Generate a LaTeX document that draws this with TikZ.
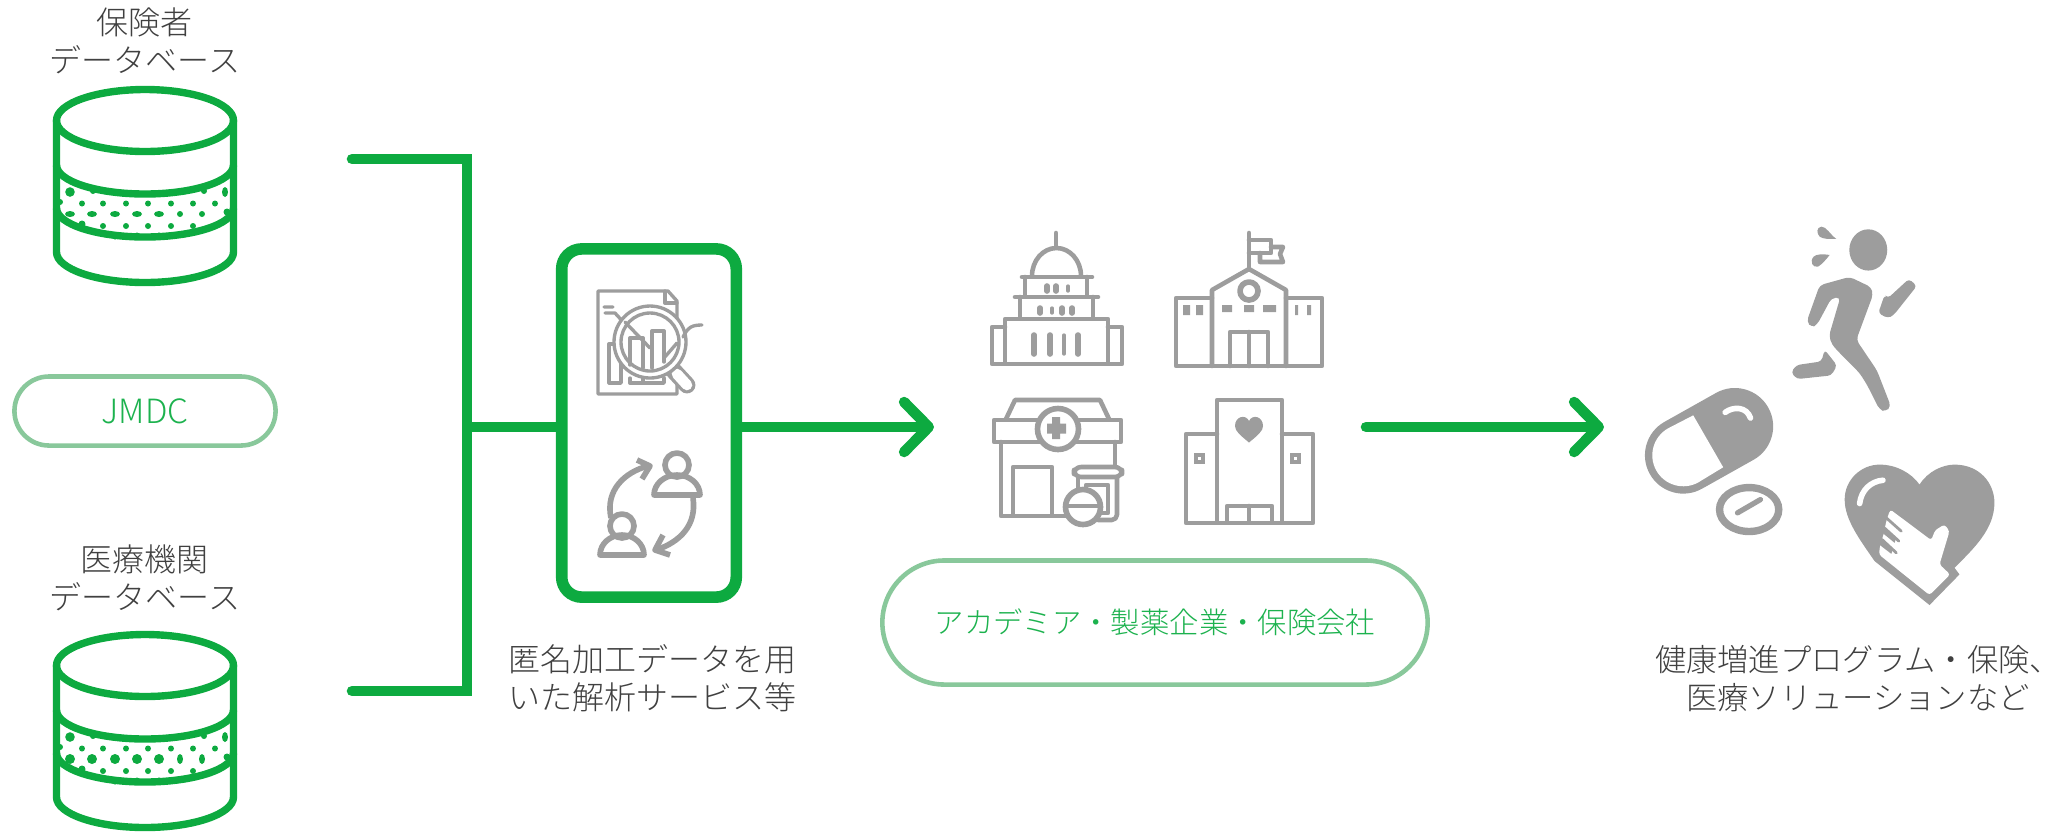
\documentclass[tikz,border=0pt]{standalone}
\usepackage{fontspec}
\usepackage{xcolor}
\usetikzlibrary{arrows.meta,positioning}
\setmainfont{Noto Sans CJK JP}[UprightFont=* Light]
\definecolor{flowgreen}{RGB}{13, 170, 64}
\definecolor{palegreen}{RGB}{137, 200, 155}
\definecolor{labelgreen}{RGB}{28, 178, 78}
\definecolor{icongray}{RGB}{157, 157, 157}
\definecolor{inkgray}{RGB}{64, 64, 64}
\tikzset{
    caption/.style={text=inkgray, align=center, inner sep=0pt, font=\fontsize{9.1}{10.8}\selectfont},
    pilllabel/.style={draw=palegreen, line width=1.3pt, fill=white, text=labelgreen, inner sep=0pt, outer sep=0pt},
    servicebox/.style={draw=flowgreen, line width=3.3pt, fill=white, rounded corners=.2cm, inner sep=0pt, outer sep=0pt, minimum width=1.745cm, minimum height=3.48cm},
    flowline/.style={draw=flowgreen, line width=3pt, line cap=round},
    flowarrow/.style={flowline, -{Straight Barb[round, length=7pt, width=14.2pt]}},
    dbline/.style={draw=flowgreen, line width=2.1pt},
    iconline/.style={draw=icongray, line width=1.3pt, line join=round, line cap=round},
    thinline/.style={draw=icongray, line width=.95pt, line join=round, line cap=round},
    boldline/.style={iconline, line width=1.6pt}
}
% database cylinder, #1 = shift, #2 #3 and #4 #5 = radii of the big and small dots of the middle row
\newcommand{\dbicon}[5]{
    \begin{scope}[shift={(0,#1)}]
        \foreach \dotx in {82,103,126,148,171,193,215}
            \fill[flowgreen] (\dotx,203.5) circle (3);
        \foreach \dotx in {103,126,148,171,193}
            \fill[flowgreen] (\dotx,226) circle (3);
        \foreach \dotx in {70,92,115,137,159}
            \fill[flowgreen] (\dotx,214) ellipse [x radius=#2, y radius=#3];
        \foreach \dotx in {180,202}
            \fill[flowgreen] (\dotx,214) ellipse [x radius=#4, y radius=#5];
        \foreach \dotx in {115,137,159}
            \fill[flowgreen] (\dotx,236) circle (3.5);
        \fill[flowgreen] (70,192) circle (4.8) (93,191) circle (3) (204,191) circle (3) (225,192) ellipse [x radius=3, y radius=5];
        \fill[flowgreen] (82,224) circle (3.5) (227,212) circle (3.5) (60,202) circle (3);
        \draw[dbline] (145,120.5) ellipse [x radius=88.5, y radius=31];
        \draw[dbline] (56.5,120) -- (56.5,252) arc[start angle=180, end angle=0, x radius=88.5, y radius=30.5] -- (233.5,120);
        \draw[dbline] (56.5,165) arc[start angle=180, end angle=0, x radius=88.5, y radius=29];
        \draw[dbline] (56.5,208) arc[start angle=180, end angle=0, x radius=88.5, y radius=29];
    \end{scope}
}
\begin{document}
\begin{tikzpicture}[x=.01cm, y=-.01cm]
    \useasboundingbox (0,0) rectangle (2063,832);

    \node[caption] (insurerlabel) at (145,41) {保険者\\データベース};
    \dbicon{0}{5}{3}{3}{3}
    \node[pilllabel, font=\fontsize{9.5}{11}\selectfont, rounded corners=.345cm, minimum width=2.61cm, minimum height=.69cm] (jmdc) at (145,411) {JMDC};
    \node[caption] (hospitallabel) at (145,578) {医療機関\\データベース};
    \dbicon{545}{5}{5}{3}{5}

    % bracket and arrows
    \coordinate (insurerend) at (352,159);
    \coordinate (hospitalend) at (352,691);
    \coordinate (merge) at (467,427);
    \coordinate (academiatip) at (934,427);
    \coordinate (programstart) at (1366,427);
    \coordinate (programtip) at (1604,427);
    \node[servicebox] (service) at (649,423) {};
    \draw[flowline, line join=miter] (insurerend) -- (insurerend -| merge) -- (hospitalend -| merge) -- (hospitalend);
    \draw[flowline, line cap=butt] (merge) -- (merge -| service.west);
    \draw[flowarrow, line cap=butt] (merge -| service.east) -- (academiatip);
    \draw[flowarrow] (programstart) -- (programtip);

    \node[caption] (servicelabel) at (652,678) {匿名加工データを用\\いた解析サービス等};
    \node[pilllabel, font=\fontsize{8.35}{10}\selectfont, rounded corners=.62cm, minimum width=5.45cm, minimum height=1.24cm] (academia) at (1155,622.5) {アカデミア・製薬企業・保険会社};
    \node[caption, font=\fontsize{8.9}{10.8}\selectfont] (programlabel) at (1858,679) {健康増進プログラム・保険、\\医療ソリューションなど};

    % report with magnifier
    \draw[thinline] (677,360) -- (677,394) -- (598,394) -- (598,291) -- (668,291) -- (677,301) -- (677,320);
    \draw[thinline] (665,291) -- (665,303) -- (677,303);
    \draw[thinline] (604,307) -- (613,307) (605,313) -- (615,313) -- (626,325);
    \draw[thinline] (609,383) -- (609,344) -- (614,344) (621,350) -- (621,383) -- (609,383);
    \draw[draw=icongray, line width=4.8pt, line cap=round] (674,371) -- (687,385);
    \draw[draw=white, line width=3pt, line cap=round] (677,374) -- (687,385);
    \draw[thinline, fill=white] (650,342) circle (36);
    \draw[thinline] (650,342) circle (29);
    \draw[thinline] (625,322) -- (650,348) (664,358) -- (677,343);
    \draw[thinline] (630,365) -- (630,338) -- (643,338) -- (643,368);
    \draw[thinline] (652,368) -- (652,331) -- (664,331) -- (664,362);
    \draw[thinline] (630,378) -- (630,383) -- (664,383) -- (664,378) (643,378) -- (643,383);
    \draw[thinline] (683,337) .. controls (688,327) and (692,325) .. (702,325);

    % exchange between two people
    \draw[boldline] (677,465) circle (12);
    \draw[boldline, line cap=butt] (654,495) arc[start angle=180, end angle=360, x radius=23, y radius=20] -- cycle;
    \draw[boldline] (622,526) circle (12);
    \draw[boldline, line cap=butt] (600,555) arc[start angle=180, end angle=360, x radius=22, y radius=20] -- cycle;
    \draw[boldline, line cap=butt] (611,518) .. controls (605,490) and (625,472) .. (648,466);
    \draw[boldline, line cap=butt] (637,460) -- (650,466) -- (642,479);
    \draw[boldline, line cap=butt] (693,498) .. controls (697,525) and (680,542) .. (656,550);
    \draw[boldline, line cap=butt] (663,535) -- (655,550) -- (670,555);

    % capitol
    \draw[iconline] (1056,233) -- (1056,247);
    \draw[iconline] (1032,276) arc[start angle=180, end angle=360, x radius=24.5, y radius=28];
    \draw[iconline] (1022,277) -- (1092,277) (1015,297) -- (1098,297);
    \draw[iconline] (1025,277) -- (1025,296) (1087,277) -- (1087,296) (1020,297) -- (1020,318) (1093,297) -- (1093,318);
    \draw[iconline] (1005,363) -- (1005,319) -- (1108,319) -- (1108,363);
    \draw[iconline] (1005,327) -- (992,327) -- (992,364) -- (1122,364) -- (1122,327) -- (1108,327);
    \foreach \slotx in {1047,1056}
        \draw[boldline] (\slotx,286) -- (\slotx,291);
    \draw[thinline] (1068,286) -- (1068,291);
    \foreach \slotx in {1040,1062,1072}
        \draw[boldline] (\slotx,308) -- (\slotx,313);
    \draw[thinline] (1052,308) -- (1052,313);
    \foreach \slotx in {1034,1050,1078}
        \draw[boldline] (\slotx,335) -- (\slotx,354);
    \draw[thinline] (1064,335) -- (1064,354);

    % school
    \draw[iconline] (1249,233) -- (1249,268);
    \draw[iconline] (1249,240) -- (1271,240) -- (1271,253) -- (1249,253);
    \draw[iconline] (1271,247) -- (1283,247) -- (1280,254) -- (1283,262) -- (1260,262) -- (1260,253);
    \draw[iconline] (1212,366) -- (1212,290) -- (1249,269) -- (1286,290) -- (1286,366);
    \draw[iconline] (1212,298) -- (1176,298) -- (1176,366) -- (1322,366) -- (1322,298) -- (1286,298);
    \draw[boldline] (1249,291) circle (9);
    \draw[iconline] (1230,366) -- (1230,332) -- (1268,332) -- (1268,366) (1249,332) -- (1249,366);
    \fill[icongray] (1183,305) rectangle (1190,315) (1196,305) rectangle (1203,315);
    \fill[icongray] (1222,305) rectangle (1232,312) (1244,305) rectangle (1254,312) (1263,305) rectangle (1276,312);
    \fill[icongray] (1295,305) rectangle (1298,315) (1307,305) rectangle (1311,315);

    % pharmacy
    \draw[iconline] (1006,419) -- (1015,400) -- (1100,400) -- (1109,419);
    \draw[iconline, line cap=butt] (994,420) rectangle (1121,442);
    \draw[iconline] (1001,442) -- (1001,516) -- (1066,516);
    \draw[iconline] (1115,442) -- (1115,466);
    \draw[boldline, fill=white] (1058,429) circle (20.5);
    \fill[icongray] (1052,417) rectangle (1060,439) (1047,423.5) rectangle (1066,433.5);
    \draw[iconline] (1013,515) -- (1013,467) -- (1052,467) -- (1052,515);
    \draw[iconline, fill=white, rounded corners=2pt] (1074,467) rectangle (1122,477);
    \draw[iconline] (1078,477) -- (1078,492);
    \draw[iconline, rounded corners=1.5pt] (1117,477) -- (1117,520) -- (1098,520);
    \draw[iconline] (1086,491) -- (1086,485) -- (1108,485) -- (1108,513) -- (1100,513);
    \draw[boldline, fill=white] (1083,507) circle (17.5);
    \draw[iconline] (1066,506) -- (1100,506);

    % hospital
    \draw[iconline] (1217,522) -- (1217,400) -- (1282,400) -- (1282,522);
    \draw[iconline] (1217,434) -- (1186,434) -- (1186,523) -- (1313,523) -- (1313,434) -- (1282,434);
    \draw[iconline] (1227,522) -- (1227,506) -- (1272,506) -- (1272,522) (1249,506) -- (1249,522);
    \draw[iconline, line join=miter] (1196,455) rectangle (1203,462) (1292,455) rectangle (1299,462);
    \fill[icongray] (1249,442.5) .. controls (1240,435) and (1235,431) .. (1235,426) .. controls (1235,416) and (1246,414) .. (1249,421) .. controls (1252,414) and (1263,416) .. (1263,426) .. controls (1263,431) and (1258,435) .. (1249,442.5) -- cycle;

    % runner, capsule and heart, traced at three units per pixel
    \begin{scope}[shift={(1630,210)}, x=.003333cm, y=-.003333cm]
        \fill[icongray] (716,120) ellipse [x radius=57, y radius=62];
        \fill[icongray] (620,87) .. controls (600,72) and (590,50) .. (575,50) .. controls (560,52) and (560,70) .. (570,80) .. controls (580,88) and (600,87) .. (620,87) -- cycle;
        \fill[icongray] (600,135) .. controls (580,132) and (560,132) .. (552,140) .. controls (538,155) and (550,175) .. (565,170) .. controls (575,165) and (590,148) .. (600,135) -- cycle;
        \fill[icongray, rounded corners=1.2pt] (570,226) -- (660,201) -- (725,232) -- (730,255) -- (680,390) -- (742,482) -- (784,590) -- (768,606) -- (750,600) -- (712,525) -- (690,490) -- (640,440) -- (607,405) -- (598,378) -- (632,262) -- (605,265) -- (562,345) -- (545,353) -- (531,335) -- cycle;
        \fill[icongray, rounded corners=1pt] (585,420) -- (622,467) -- (605,497) -- (502,508) -- (484,488) -- (500,466) -- (575,455) -- cycle;
        \fill[icongray, rounded corners=1pt] (765,255) -- (775,265) -- (838,207) -- (862,228) -- (792,316) -- (775,325) -- (746,310) -- cycle;
        % capsule
        \draw[icongray, line width=21.8pt, line cap=round] (160,737) -- (315,650);
        \fill[white] (190,617) -- (114.5,656) arc[start angle=240.7, end angle=60.7, radius=93] -- (280,773) -- cycle;
        \draw[white, line width=1.6pt, line cap=round] (286,608) .. controls (310,590) and (350,590) .. (362,625);
        \draw[icongray, line width=2.1pt] (358,900) ellipse [x radius=89, y radius=66];
        \draw[icongray, line width=1.5pt, line cap=round] (323,910) -- (392,870);
        % heart with hand
        \fill[icongray] (870,825) .. controls (895,785) and (940,765) .. (975,765) .. controls (1050,765) and (1095,820) .. (1095,880) .. controls (1095,960) and (1030,1020) .. (975,1075) -- (990,1095) -- (900,1187) -- (735,1055) .. controls (690,990) and (645,930) .. (645,870) .. controls (645,810) and (695,765) .. (750,765) .. controls (800,765) and (845,790) .. (870,825) -- cycle;
        \fill[white, rounded corners=.8pt] (782,900) -- (905,992) -- (917,962) -- (945,945) -- (960,965) -- (930,1065) -- (962,1095) -- (900,1157) -- (748,1035) -- (752,1005) -- (762,975) -- (770,935) -- cycle;
        \fill[icongray] (758,950) -- (800,985) -- (795,1000) -- (756,968) -- cycle (748,985) -- (790,1020) -- (785,1033) -- (742,1000) -- cycle;
        \draw[icongray, line width=.8pt, line cap=round] (770,925) -- (815,965) (764,955) -- (808,995) (757,990) -- (800,1030);
        \draw[white, line width=1.6pt, line cap=round] (690,882) .. controls (695,840) and (725,815) .. (760,812);
    \end{scope}
\end{tikzpicture}
\end{document}
